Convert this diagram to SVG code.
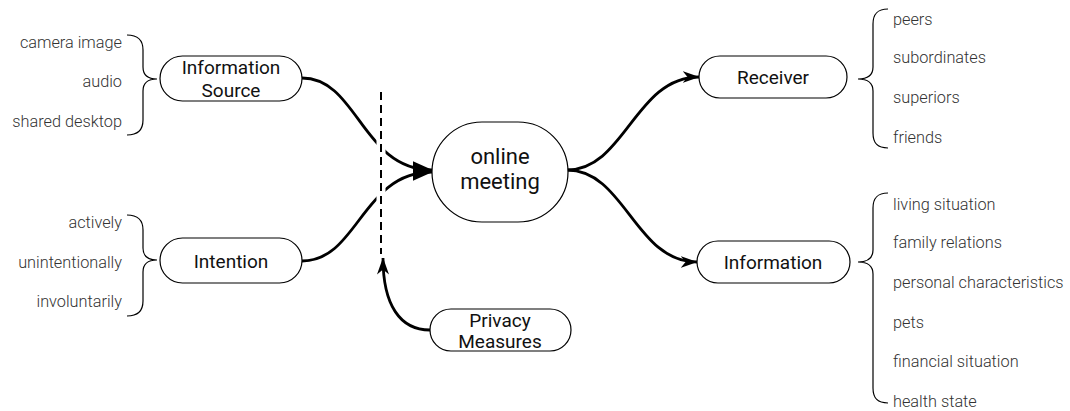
<svg xmlns="http://www.w3.org/2000/svg" width="1070" height="411" viewBox="0 0 1070 411">
  <style>
    .node { fill: #fff; stroke: #000; stroke-width: 1.2; }
    .label { font-family: Roboto, "Liberation Sans", sans-serif; font-size: 19px; fill: #111; text-anchor: middle; }
    .big { font-size: 22px; }
    .leaf { font-family: Roboto, "Liberation Sans", sans-serif; font-size: 16.3px; font-weight: 300; fill: #333; }
    .leaf-r { text-anchor: end; }
    .brace { fill: none; stroke: #000; stroke-width: 1.2; }
    .edge { fill: none; stroke: #000; stroke-width: 2.8; }
  </style>
  <defs>
    <marker id="bigArrow" viewBox="0 0 20 20" refX="19.5" refY="10" markerWidth="20" markerHeight="20" markerUnits="userSpaceOnUse" orient="auto">
      <path d="M0,1 L20,10 L0,19 Z" fill="#000"/>
    </marker>
    <marker id="stealth" viewBox="0 0 17 13" refX="16.5" refY="6.5" markerWidth="17" markerHeight="13" markerUnits="userSpaceOnUse" orient="auto">
      <path d="M0,0.5 L17,6.5 L0,12.5 L5,6.5 Z" fill="#000"/>
    </marker>
  </defs>

  <!-- connectors -->
  <g id="connectors">
    <path class="edge" d="M302,78 C358,78 362,170 432,170" marker-end="url(#bigArrow)"/>
    <path class="edge" d="M302,261 C358,261 362,172 432,172" marker-end="url(#bigArrow)"/>
    <path class="edge" d="M567,170 C625,170 635,77 699,77" marker-end="url(#stealth)"/>
    <path class="edge" d="M567,170 C625,170 635,262 697,262" marker-end="url(#stealth)"/>
    <path class="edge" d="M430,330 C400,330 383,305 383,258" marker-end="url(#stealth)"/>
    <!-- boundary line with a white halo where the edges cross -->
    <line x1="381" y1="100" x2="381" y2="245" stroke="#fff" stroke-width="9"/>
    <line x1="381" y1="92" x2="381" y2="254" stroke="#000" stroke-width="2" stroke-dasharray="8 5"/>
  </g>

  <g id="information-source">
    <rect class="node" x="160" y="56" width="142" height="45" rx="22.5"/>
    <text class="label" x="231" y="74">Information</text>
    <text class="label" x="231" y="97">Source</text>
    <path class="brace" d="M127,35 C138,35 143,40 143,50 L143,67 C143,75 148,79 157,79 C148,79 143,83 143,91 L143,120 C143,130 138,135 127,135"/>
    <text class="leaf leaf-r" x="122" y="48">camera image</text>
    <text class="leaf leaf-r" x="122" y="87">audio</text>
    <text class="leaf leaf-r" x="122" y="127">shared desktop</text>
  </g>

  <g id="intention">
    <rect class="node" x="160" y="238" width="142" height="45" rx="22.5"/>
    <text class="label" x="231" y="268">Intention</text>
    <path class="brace" d="M127,215 C138,215 143,220 143,230 L143,248 C143,256 148,260 157,260 C148,260 143,264 143,272 L143,301 C143,311 138,316 127,316"/>
    <text class="leaf leaf-r" x="122" y="228">actively</text>
    <text class="leaf leaf-r" x="122" y="268">unintentionally</text>
    <text class="leaf leaf-r" x="122" y="307">involuntarily</text>
  </g>

  <g id="online-meeting">
    <rect class="node" x="432" y="122" width="136" height="100" rx="50"/>
    <text class="label big" x="500" y="164">online</text>
    <text class="label big" x="500" y="189">meeting</text>
  </g>

  <g id="privacy-measures">
    <rect class="node" x="430" y="309" width="141" height="42" rx="21"/>
    <text class="label" x="500" y="327">Privacy</text>
    <text class="label" x="500" y="348">Measures</text>
  </g>

  <g id="receiver">
    <rect class="node" x="699" y="56" width="148" height="42" rx="21"/>
    <text class="label" x="773" y="84">Receiver</text>
    <path class="brace" d="M888,9 C877,9 873,14 873,24 L873,67 C873,75 868,79 858,79 C868,79 873,83 873,91 L873,133 C873,143 877,148 888,148"/>
    <text class="leaf" x="893" y="25">peers</text>
    <text class="leaf" x="893" y="63">subordinates</text>
    <text class="leaf" x="893" y="103">superiors</text>
    <text class="leaf" x="893" y="143">friends</text>
  </g>

  <g id="information">
    <rect class="node" x="697" y="241" width="153" height="42" rx="21"/>
    <text class="label" x="773" y="269">Information</text>
    <path class="brace" d="M888,193 C877,193 873,198 873,208 L873,250 C873,258 868,262 858,262 C868,262 873,266 873,274 L873,388 C873,398 877,403 888,403"/>
    <text class="leaf" x="893" y="210">living situation</text>
    <text class="leaf" x="893" y="248">family relations</text>
    <text class="leaf" x="893" y="288">personal characteristics</text>
    <text class="leaf" x="893" y="328">pets</text>
    <text class="leaf" x="893" y="367">financial situation</text>
    <text class="leaf" x="893" y="407">health state</text>
  </g>
</svg>
